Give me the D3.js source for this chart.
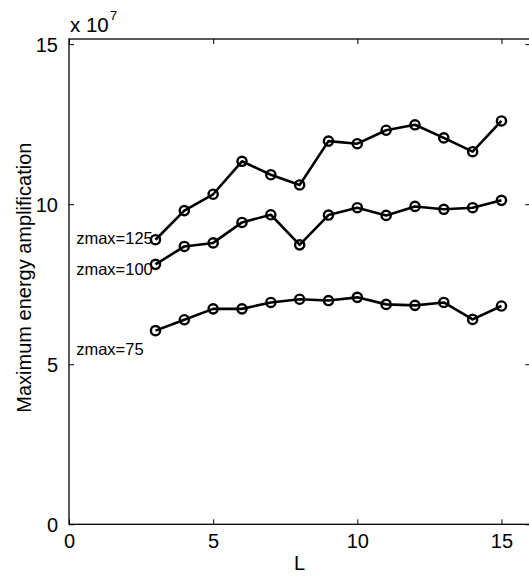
<!DOCTYPE html>
<html>
<head>
<meta charset="utf-8">
<script src="https://cdn.jsdelivr.net/npm/d3@7"></script>
<style>
  html, body { margin: 0; padding: 0; background: #fff; }
  svg { display: block; font-family: "Liberation Sans", Arial, Helvetica, sans-serif; }
</style>
</head>
<body>
<svg id="chart" width="529" height="576"></svg>
<script>
// ---- data (values in units of 1e7) ----
const L = [3, 4, 5, 6, 7, 8, 9, 10, 11, 12, 13, 14, 15];
const zmax125 = [8.89, 9.80, 10.31, 11.34, 10.92, 10.60, 11.97, 11.89, 12.31, 12.48, 12.07, 11.64, 12.60];
const zmax100 = [8.12, 8.68, 8.79, 9.43, 9.67, 8.73, 9.66, 9.89, 9.65, 9.93, 9.84, 9.89, 10.12];
const zmax75  = [6.05, 6.39, 6.73, 6.73, 6.93, 7.03, 6.99, 7.09, 6.87, 6.84, 6.93, 6.40, 6.82];
const seriesNames = ["zmax=125", "zmax=100", "zmax=75"];
const labelX = [0.25, 0.25, 0.25];
const labelY = [8.95, 7.97, 5.47];
const xTicks = [0, 5, 10, 15];
const yTicks = [0, 5, 10, 15];
const xDomain = [0, 16];
const yDomain = [0, 15.16];

const svg = d3.select("#chart");
const mLeft = 69, mRight = 530.3, mTop = 39, mBottom = 524.3;
const x = d3.scaleLinear().domain(xDomain).range([mLeft, mRight]);
const y = d3.scaleLinear().domain(yDomain).range([mBottom, mTop]);

const tickLen = 5;
const fontTick = 20;

// box
svg.append("rect")
  .attr("x", mLeft).attr("y", mTop)
  .attr("width", mRight - mLeft).attr("height", mBottom - mTop)
  .attr("fill", "none").attr("stroke", "#000").attr("stroke-width", 1.3);

// axes with inward ticks
const gx = svg.append("g").attr("transform", `translate(0,${mBottom})`)
  .call(d3.axisBottom(x).tickValues(xTicks).tickSizeInner(-tickLen).tickSizeOuter(0).tickPadding(10).tickFormat(d3.format("d")));
const gxt = svg.append("g").attr("transform", `translate(0,${mTop})`)
  .call(d3.axisTop(x).tickValues(xTicks).tickSizeInner(-tickLen).tickSizeOuter(0).tickFormat(""));
const gy = svg.append("g").attr("transform", `translate(${mLeft},0)`)
  .call(d3.axisLeft(y).tickValues(yTicks).tickSizeInner(-tickLen).tickSizeOuter(0).tickPadding(11).tickFormat(d3.format("d")));
const gyr = svg.append("g").attr("transform", `translate(${mRight},0)`)
  .call(d3.axisRight(y).tickValues(yTicks).tickSizeInner(-tickLen).tickSizeOuter(0).tickFormat(""));

[gx, gxt, gy, gyr].forEach(g => {
  g.select(".domain").remove();
  g.selectAll(".tick line").attr("stroke", "#000").attr("stroke-width", 1);
  g.selectAll("text").attr("font-size", fontTick).attr("fill", "#000")
    .attr("font-family", "'Liberation Sans', Arial, sans-serif");
});
gx.selectAll("text").attr("dy", "0.71em");
gy.selectAll("text").attr("dy", "0.36em");

// exponent label
const exp = svg.append("text").attr("x", mLeft + 1).attr("y", 32)
  .attr("font-size", 20.5).attr("fill", "#000");
exp.append("tspan").text("x 10");
exp.append("tspan").attr("font-size", 13.5).attr("dx", 1).attr("dy", -12).text("7");

// axis labels
svg.append("text").attr("x", (mLeft + mRight) / 2).attr("y", 570)
  .attr("text-anchor", "middle").attr("font-size", 20).text("L");
svg.append("text")
  .attr("transform", `translate(31,${(mTop + mBottom) / 2 - 4}) rotate(-90)`)
  .attr("text-anchor", "middle").attr("font-size", 20).text("Maximum energy amplification");

// series
const allSeries = [zmax125, zmax100, zmax75];
const line = d3.line().x((d, i) => x(L[i])).y(d => y(d));
allSeries.forEach((vals, si) => {
  svg.append("path").datum(vals).attr("d", line)
    .attr("fill", "none").attr("stroke", "#000").attr("stroke-width", 2.6)
    .attr("stroke-linejoin", "round");
  svg.append("g").selectAll("circle").data(vals).join("circle")
    .attr("cx", (d, i) => x(L[i])).attr("cy", d => y(d)).attr("r", 4.6)
    .attr("fill", "none").attr("stroke", "#000").attr("stroke-width", 2.4);
  svg.append("text").attr("x", x(labelX[si])).attr("y", y(labelY[si]))
    .attr("dy", "0.36em").attr("font-size", 16.5).attr("fill", "#000")
    .text(seriesNames[si]);
});
</script>
</body>
</html>
